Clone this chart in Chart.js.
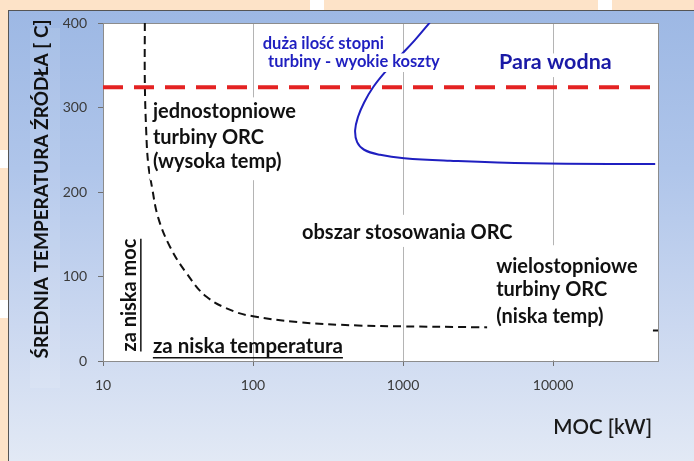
<!DOCTYPE html>
<html>
<head>
<meta charset="utf-8">
<script src="https://cdn.jsdelivr.net/npm/chart.js@4/dist/chart.umd.min.js"></script>
<style>
  html, body { margin: 0; padding: 0; width: 694px; height: 461px; overflow: hidden; background: #fde3c8; }
  .gap { position: absolute; background: #ffffff; }
  #panel {
    position: absolute; left: 8px; top: 10px; width: 686px; height: 451px;
    box-sizing: border-box; border-left: 1px solid #555; border-top: 1px solid #555;
    background: linear-gradient(180deg, #9db8e4 0%, #afc5ea 35%, #cbd8f0 70%, #e2e9f5 100%);
  }
  #ytitleBg { position: absolute; left: 30px; top: 28px; width: 30px; height: 360px; background: rgba(255,255,255,0.1); }
  #chart { position: absolute; left: 0; top: 0; }
</style>
</head>
<body>
<div class="gap" style="left:310px;top:0;width:14px;height:10px"></div>
<div class="gap" style="left:598px;top:0;width:14px;height:10px"></div>
<div class="gap" style="left:0;top:150px;width:8px;height:18px"></div>
<div class="gap" style="left:0;top:300px;width:8px;height:18px"></div>
<div id="panel"></div>
<div id="ytitleBg"></div>
<canvas id="chart" width="694" height="461"></canvas>
<script>
// --- dane ---
const powerTicks = [10, 100, 1000, 10000];
const tempTicks  = [0, 100, 200, 300, 400];

// granica "za niska moc / za niska temperatura" (czarna przerywana)
const minLimitX = [19, 19, 19.4, 20, 21.2, 23.3, 28, 36, 49, 74, 100, 200, 500, 1000, 3000, 10000, 50000];
const minLimitY = [400, 330, 273, 234, 206, 170, 135, 104, 76, 59, 53, 46, 42, 41, 40, 38, 36];

// para wodna (czerwona przerywana)
const steamX = [10, 50000];
const steamY = [324, 324];

// granica turbin wielostopniowych (niebieska)
const multiX = [1514, 1202, 955, 759, 631, 550, 501, 479, 494, 550, 703, 1016, 2057, 7030, 47900];
const multiY = [401, 380, 361, 342, 324, 306, 289, 273, 259, 250, 244, 240, 237, 234, 233];

const BLACK = '#111111';
const BLUE  = '#1f1fc0';
const RED   = '#e42222';

const zip = (xs, ys) => xs.map((x, i) => ({ x, y: ys[i] }));

// podpisy (pozycje w jednostkach osi)
const boxes = [
  { x0: 108, x1: 1905, y0: 342, y1: 364 },
  { x0: 4100, x1: 19000, y0: 336, y1: 364 },
  { x0: 20.6, x1: 205, y0: 214, y1: 312 },
  { x0: 200, x1: 6210, y0: 135, y1: 173 },
  { x0: 3631, x1: 43000, y0: 0, y1: 137 },
];
const LBL = 'bold 20px Lato';
const notes = [
  { text: 'duża ilość stopni',        x: 116,  y: 375, font: 'bold 16.5px Lato', color: BLUE },
  { text: 'turbiny - wyokie koszty',  x: 126,  y: 354, font: 'bold 16.5px Lato', color: BLUE },
  { text: 'Para wodna',               x: 4365, y: 354, font: 'bold 21.5px Lato', color: '#1a1aa6' },
  { text: 'jednostopniowe',           x: 21.5, y: 295, font: LBL, color: BLACK },
  { text: 'turbiny ORC',              x: 21.5, y: 265, font: LBL, color: BLACK },
  { text: '(wysoka temp)',            x: 21.5, y: 236, font: LBL, color: BLACK },
  { text: 'obszar stosowania ORC',    x: 212,  y: 152, font: LBL, color: BLACK },
  { text: 'wielostopniowe',           x: 4170, y: 112, font: LBL, color: BLACK },
  { text: 'turbiny ORC',              x: 4170, y: 84,  font: LBL, color: BLACK },
  { text: '(niska temp)',             x: 4170, y: 53,  font: LBL, color: BLACK },
  { text: 'za niska temperatura',     x: 21.5, y: 17,  font: 'bold 20.5px Lato', color: BLACK, underline: true },
  { text: 'za niska moc',             x: 15.1, y: 78,  font: 'bold 20px Lato', color: BLACK, underline: true, vertical: true },
];

const framePlugin = {
  id: 'frame',
  beforeDraw(chart) {
    const { ctx, chartArea: a } = chart;
    ctx.save();
    ctx.fillStyle = '#ffffff';
    ctx.fillRect(a.left, a.top, a.right - a.left, a.bottom - a.top);
    ctx.restore();
  },
  beforeDatasetsDraw(chart) {
    const { ctx, chartArea: a } = chart;
    ctx.save();
    ctx.strokeStyle = '#8c8c8c';
    ctx.lineWidth = 1;
    ctx.strokeRect(a.left + 0.5, a.top + 0.5, a.right - a.left, a.bottom - a.top);
    ctx.restore();
  },
  afterDatasetsDraw(chart) {
    const { ctx, chartArea: a, scales: { x, y } } = chart;
    ctx.save();
    ctx.fillStyle = '#ffffff';
    boxes.forEach(b => {
      const px0 = x.getPixelForValue(b.x0), px1 = x.getPixelForValue(b.x1);
      const py0 = y.getPixelForValue(b.y0), py1 = y.getPixelForValue(b.y1);
      ctx.fillRect(px0, py1, px1 - px0, Math.min(py0, a.bottom - 1) - py1);
    });
    ctx.textBaseline = 'middle';
    notes.forEach(n => {
      const px = x.getPixelForValue(n.x), py = y.getPixelForValue(n.y);
      ctx.font = n.font;
      ctx.fillStyle = n.color;
      ctx.strokeStyle = n.color;
      const w = ctx.measureText(n.text).width;
      ctx.save();
      ctx.translate(px, py);
      if (n.vertical) {
        ctx.rotate(-Math.PI / 2);
        ctx.textAlign = 'center';
        ctx.fillText(n.text, 0, 0);
        if (n.underline) {
          ctx.lineWidth = 1.5;
          ctx.beginPath();
          ctx.moveTo(-w / 2, 11); ctx.lineTo(w / 2, 11);
          ctx.stroke();
        }
      } else {
        ctx.textAlign = 'left';
        ctx.fillText(n.text, 0, 0);
        if (n.underline) {
          ctx.lineWidth = 1.5;
          ctx.beginPath();
          ctx.moveTo(0, 11); ctx.lineTo(w, 11);
          ctx.stroke();
        }
      }
      ctx.restore();
    });

    // tytuły osi
    ctx.fillStyle = BLACK;
    ctx.font = 'bold 19px Lato';
    ctx.save();
    ctx.translate(a.left - 61, (a.top + a.bottom) / 2 - 3);
    ctx.rotate(-Math.PI / 2);
    ctx.textAlign = 'center';
    ctx.fillText('ŚREDNIA TEMPERATURA ŹRÓDŁA [ C]', 0, 0);
    ctx.restore();
    ctx.font = '600 20.5px Lato';
    ctx.fillStyle = '#1a1a1a';
    ctx.textAlign = 'right';
    ctx.fillText('MOC [kW]', a.right - 6, a.bottom + 66);
    ctx.restore();
  },
};

new Chart(document.getElementById('chart'), {
  type: 'scatter',
  data: {
    datasets: [
      {
        data: zip(steamX, steamY),
        showLine: true,
        borderColor: RED,
        borderWidth: 4,
        borderDash: [20, 11],
        pointRadius: 0,
      },
      {
        data: zip(minLimitX, minLimitY),
        showLine: true,
        borderColor: BLACK,
        borderWidth: 2,
        borderDash: [8, 5],
        pointRadius: 0,
        tension: 0.4,
      },
      {
        data: zip(multiX, multiY),
        showLine: true,
        borderColor: BLUE,
        borderWidth: 2,
        pointRadius: 0,
        tension: 0.4,
      },
    ],
  },
  options: {
    responsive: false,
    animation: false,
    layout: { padding: { top: 23, right: 36, left: 0, bottom: 0 } },
    plugins: { legend: { display: false }, tooltip: { enabled: false } },
    scales: {
      x: {
        type: 'logarithmic',
        min: 10,
        max: 50000,
        afterBuildTicks: s => { s.ticks = powerTicks.map(v => ({ value: v })); },
        afterFit: s => { s.height = 100; },
        ticks: {
          callback: v => String(v),
          color: '#3a3a3a',
          font: { family: 'Lato', size: 14 },
          padding: 11,
          maxRotation: 0,
        },
        grid: { color: '#b4b4b4', tickColor: '#707070', tickLength: 5 },
        border: { color: '#6a6a6a' },
      },
      y: {
        min: 0,
        max: 400,
        afterBuildTicks: s => { s.ticks = tempTicks.map(v => ({ value: v })); },
        afterFit: s => { s.width = 103; },
        ticks: {
          color: '#3a3a3a',
          font: { family: 'Lato', size: 14 },
          padding: 11,
        },
        grid: { drawOnChartArea: false, tickColor: '#707070', tickLength: 5 },
        border: { color: '#6a6a6a' },
      },
    },
  },
  plugins: [framePlugin],
});
</script>
</body>
</html>
